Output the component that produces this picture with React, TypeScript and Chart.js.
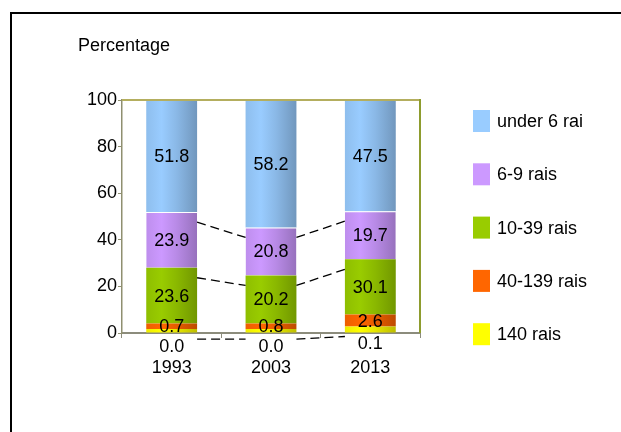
import React, { useEffect, useRef } from 'react';
import { Chart, registerables } from 'chart.js';

Chart.register(...registerables);

// ---------- data ----------
const categories = ['1993', '2003', '2013'];
// series names, stacked bottom -> top
const seriesNames = ['140 rais', '40-139 rais', '10-39 rais', '6-9 rais', 'under 6 rai'];
// segment heights as drawn in the picture (percent)
const rais140 = [1.7, 1.7, 2.8];
const rais40to139 = [2.4, 2.4, 5.1];
const rais10to39 = [23.9, 20.6, 23.7];
const rais6to9 = [23.9, 20.6, 20.7];
const under6 = [48.1, 54.7, 47.7];
// the numbers printed on the segments
const label140 = [0.0, 0.0, 0.1];
const label40to139 = [0.7, 0.8, 2.6];
const label10to39 = [23.6, 20.2, 30.1];
const label6to9 = [23.9, 20.8, 19.7];
const labelUnder6 = [51.8, 58.2, 47.5];
const yTicks = [0, 20, 40, 60, 80, 100];
const axisTitle = 'Percentage';
const seriesColors = ['#ffff00', '#ff6600', '#99cc00', '#cc99ff', '#99ccff'];

const seriesValues = [rais140, rais40to139, rais10to39, rais6to9, under6];
const seriesLabels = [label140, label40to139, label10to39, label6to9, labelUnder6];

const FONT = '"Liberation Sans", Arial, sans-serif';
const FSIZE = 18;
const BAR_FRACTION = 0.512;

function shade(hex: string, f: number): string {
  const n = parseInt(hex.slice(1), 16);
  const r = Math.min(255, Math.round(((n >> 16) & 255) * f));
  const g = Math.min(255, Math.round(((n >> 8) & 255) * f));
  const b = Math.min(255, Math.round((n & 255) * f));
  return `rgb(${r},${g},${b})`;
}

function barGradient(base: string) {
  return (c: any) => {
    const chart = c.chart;
    if (c.dataIndex == null || !chart.chartArea) return base;
    const xs = chart.scales.x;
    if (!xs) return base;
    const cx = xs.getPixelForValue(c.dataIndex);
    const w = (xs.width / categories.length) * BAR_FRACTION;
    if (!isFinite(cx) || !isFinite(w) || w <= 0) return base;
    const g = chart.ctx.createLinearGradient(cx - w / 2, 0, cx + w / 2, 0);
    g.addColorStop(0, shade(base, 0.93));
    g.addColorStop(0.3, shade(base, 1.0));
    g.addColorStop(0.6, shade(base, 0.9));
    g.addColorStop(1, shade(base, 0.74));
    return g;
  };
}

const decorPlugin = {
  id: 'decor',
  afterDatasetsDraw(chart: any) {
    const ctx = chart.ctx as CanvasRenderingContext2D;
    const { left, right, top, bottom } = chart.chartArea;
    ctx.save();
    // plot area top & right border
    ctx.lineWidth = 2;
    ctx.strokeStyle = '#b4ae5e';
    ctx.beginPath();
    ctx.moveTo(left, top);
    ctx.lineTo(right, top);
    ctx.stroke();
    ctx.strokeStyle = '#8e9c2e';
    ctx.beginPath();
    ctx.moveTo(right, top - 1);
    ctx.lineTo(right, bottom);
    ctx.stroke();

    // series connector lines
    ctx.setLineDash([9, 5]);
    ctx.lineWidth = 1.3;
    ctx.strokeStyle = '#000';
    [0, 2, 3].forEach((ds) => {
      const meta = chart.getDatasetMeta(ds);
      for (let i = 0; i < meta.data.length - 1; i++) {
        const a = meta.data[i].getProps(['x', 'y', 'width'], true);
        const b = meta.data[i + 1].getProps(['x', 'y', 'width'], true);
        ctx.beginPath();
        ctx.moveTo(a.x + a.width / 2, a.y + 10);
        ctx.lineTo(b.x - b.width / 2, b.y + 10);
        ctx.stroke();
      }
    });
    ctx.setLineDash([]);

    // value labels
    ctx.fillStyle = '#000';
    ctx.font = `${FSIZE}px ${FONT}`;
    ctx.textAlign = 'center';
    ctx.textBaseline = 'middle';
    seriesLabels.forEach((vals, ds) => {
      const meta = chart.getDatasetMeta(ds);
      meta.data.forEach((el: any, i: number) => {
        const p = el.getProps(['x', 'y', 'base'], true);
        const y = ds === 0 ? p.y + 17 : (p.y + p.base) / 2;
        ctx.fillText(vals[i].toFixed(1), p.x, y + 1);
      });
    });
    ctx.restore();
  },
  afterDraw(chart: any) {
    const ctx = chart.ctx as CanvasRenderingContext2D;
    ctx.save();
    // outer frame (top & left)
    ctx.fillStyle = '#000';
    ctx.fillRect(10, 12, chart.width - 10, 2);
    ctx.fillRect(10, 12, 2, chart.height - 12);

    // axis title
    ctx.font = `${FSIZE}px ${FONT}`;
    ctx.textBaseline = 'middle';
    ctx.textAlign = 'left';
    ctx.fillText(axisTitle, 78, 46);

    // legend
    for (let k = 0; k < seriesNames.length; k++) {
      const idx = seriesNames.length - 1 - k;
      const cy = 121 + k * 53.3;
      ctx.fillStyle = seriesColors[idx];
      ctx.fillRect(473, cy - 11, 17, 22);
      ctx.fillStyle = '#000';
      ctx.fillText(seriesNames[idx], 497, cy + 1);
    }
    ctx.restore();
  },
};

export default function App() {
  const canvasRef = useRef<HTMLCanvasElement | null>(null);

  useEffect(() => {
    if (!canvasRef.current) return;
    const chart = new Chart(canvasRef.current, {
      type: 'bar',
      data: {
        labels: categories,
        datasets: seriesValues.map((vals, i) => ({
          label: seriesNames[i],
          data: vals,
          backgroundColor: barGradient(seriesColors[i]),
          borderColor: '#ffffff',
          borderWidth: i === 3 ? { top: 1, left: 0, right: 0, bottom: 0 } : 0,
          borderSkipped: false,
          categoryPercentage: 0.8,
          barPercentage: BAR_FRACTION / 0.8,
        })),
      },
      options: {
        animation: false,
        responsive: false,
        events: [],
        layout: { padding: { top: 100, right: 201, left: 0, bottom: 0 } },
        plugins: {
          legend: { display: false },
          title: { display: false },
          tooltip: { enabled: false },
        },
        scales: {
          x: {
            stacked: true,
            afterFit: (s: any) => {
              s.height = 99;
            },
            grid: {
              offset: true,
              drawOnChartArea: false,
              drawTicks: true,
              tickLength: 5,
              color: '#8c8c7c',
              lineWidth: 1,
            },
            border: { display: true, color: '#8c8c7c', width: 2 },
            ticks: {
              color: '#000',
              font: { family: FONT, size: FSIZE },
              padding: 19,
              maxRotation: 0,
            },
          },
          y: {
            stacked: true,
            min: 0,
            max: 100,
            afterFit: (s: any) => {
              s.width = 122;
            },
            afterBuildTicks: (s: any) => {
              s.ticks = yTicks.map((v) => ({ value: v }));
            },
            grid: {
              drawOnChartArea: false,
              drawTicks: true,
              tickLength: 4,
              color: '#8f8f70',
            },
            border: { display: true, color: '#8f8f70', width: 1.5 },
            ticks: {
              color: '#000',
              font: { family: FONT, size: FSIZE },
              padding: 1,
            },
          },
        },
      },
      plugins: [decorPlugin],
    });
    return () => chart.destroy();
  }, []);

  return (
    <div style={{ position: 'fixed', left: 0, top: 0, width: 621, height: 432, overflow: 'hidden', background: '#fff' }}>
      <canvas ref={canvasRef} width={621} height={432} style={{ display: 'block' }} />
    </div>
  );
}
